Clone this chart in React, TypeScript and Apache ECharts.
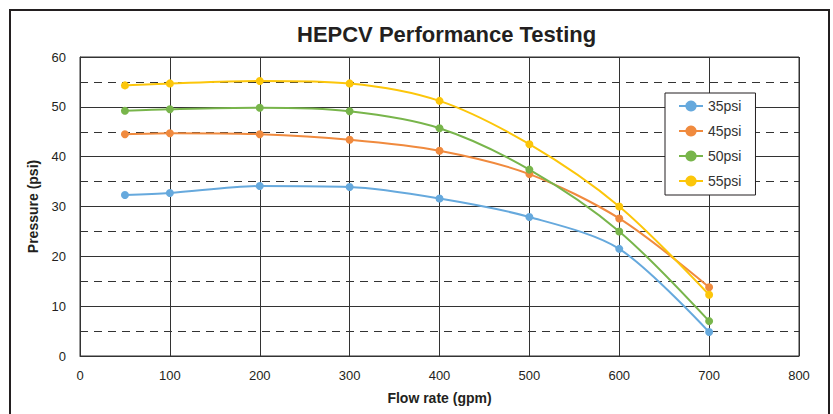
import React, { useEffect, useRef } from "react";
import * as echarts from "echarts";

const flowRates = [50, 100, 200, 300, 400, 500, 600, 700];
const seriesNames = ["35psi", "45psi", "50psi", "55psi"];
const p35 = [32.3, 32.7, 34.1, 33.9, 31.6, 27.9, 21.5, 4.8];
const p45 = [44.5, 44.7, 44.5, 43.4, 41.2, 36.5, 27.6, 13.8];
const p50 = [49.2, 49.5, 49.8, 49.1, 45.7, 37.4, 25.0, 7.0];
const p55 = [54.3, 54.7, 55.2, 54.7, 51.2, 42.5, 30.0, 12.3];
const seriesValues = [p35, p45, p50, p55];
const colors = ["#66a9dd", "#f08a3e", "#78b54b", "#fcc60a"];

const FONT = "'Liberation Sans', Arial, Helvetica, sans-serif";

export default function App() {
  const ref = useRef<HTMLDivElement>(null);
  useEffect(() => {
    document.body.style.margin = "0";
    if (!ref.current) return;
    const chart = echarts.init(ref.current, undefined, { renderer: "svg" });
    const option: any = {
      animation: false,
      backgroundColor: "#ffffff",
      title: {
        text: "HEPCV Performance Testing",
        left: 297,
        top: 23,
        padding: 0,
        textStyle: { fontFamily: FONT, fontSize: 22, fontWeight: "bold", color: "#231f20" },
      },
      graphic: [
        {
          type: "rect",
          shape: { x: 10, y: 10, width: 819, height: 440 },
          style: { fill: "none", stroke: "#231f20", lineWidth: 2 },
          z: 100,
        },
      ],
      legend: {
        orient: "vertical",
        left: 665,
        top: 93,
        padding: [6, 14, 7, 13],
        itemGap: 11,
        itemWidth: 24,
        itemHeight: 14,
        backgroundColor: "#ffffff",
        borderColor: "#231f20",
        borderWidth: 1,
        textStyle: { fontFamily: FONT, fontSize: 14, color: "#333" },
        data: seriesNames,
      },
      grid: {
        left: 80,
        right: 34,
        top: 57,
        bottom: 58,
        show: true,
        borderColor: "#333",
        borderWidth: 1,
      },
      xAxis: {
        type: "value",
        min: 0,
        max: 800,
        interval: 100,
        name: "Flow rate (gpm)",
        nameLocation: "middle",
        nameGap: 35,
        nameTextStyle: { fontFamily: FONT, fontSize: 14, fontWeight: "bold", color: "#231f20" },
        axisLine: { show: true, lineStyle: { color: "#333", width: 1 } },
        axisTick: { show: false },
        axisLabel: { fontFamily: FONT, fontSize: 13, color: "#231f20", margin: 13 },
        splitLine: { show: true, lineStyle: { color: "#333", width: 1, type: "solid" } },
      },
      yAxis: {
        type: "value",
        min: 0,
        max: 60,
        interval: 10,
        name: "Pressure (psi)",
        nameLocation: "middle",
        nameGap: 40,
        nameRotate: 90,
        nameTextStyle: { fontFamily: FONT, fontSize: 14, fontWeight: "bold", color: "#231f20" },
        axisLine: { show: true, lineStyle: { color: "#333", width: 1 } },
        axisTick: { show: false },
        axisLabel: { fontFamily: FONT, fontSize: 13, color: "#231f20", margin: 14 },
        splitLine: { show: true, lineStyle: { color: "#333", width: 1, type: "solid" } },
        minorTick: { show: false, splitNumber: 2 },
        minorSplitLine: { show: true, lineStyle: { color: "#333", width: 1, type: [8, 6] } },
      },
      series: seriesNames.map((name, i) => ({
        name,
        type: "line",
        smooth: 0.3,
        symbol: "circle",
        symbolSize: 8,
        showSymbol: true,
        color: colors[i],
        lineStyle: { width: 2, color: colors[i] },
        itemStyle: { color: colors[i] },
        data: flowRates.map((x, j) => [x, seriesValues[i][j]]),
        z: 3,
      })),
    };
    chart.setOption(option);
    return () => chart.dispose();
  }, []);
  return <div ref={ref} style={{ width: 833, height: 414 }} />;
}
